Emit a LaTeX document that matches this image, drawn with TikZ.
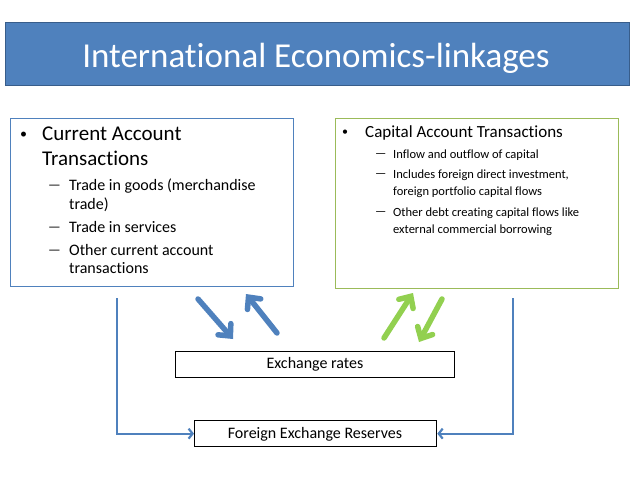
\documentclass[tikz,border=0pt]{standalone}
\usepackage{fontspec}
\setmainfont{Carlito}[Ligatures=NoCommon]
\usetikzlibrary{arrows.meta}
\definecolor{obl}{HTML}{4F81BD}
\definecolor{obld}{HTML}{385D8A}
\definecolor{ogr}{HTML}{9BBB59}
\definecolor{agr}{HTML}{92D050}
\tikzset{
  txt/.style={anchor=base west, inner sep=0pt, font=\fontsize{#1}{#1}\selectfont},
  fat/.style={line width=5.5pt, line cap=round, -{Straight Barb[length=9pt,width=17pt,line cap=round]}, draw=#1},
  thin/.style={line width=2.2pt, draw=obl, -{Straight Barb[length=4pt,width=10pt]}},
  blk/.style={draw=black, line width=1.3pt, fill=white}
}
\begin{document}
\begin{tikzpicture}[x=1pt,y=-1pt]
\useasboundingbox (0,0) rectangle (638,479);
% title
\node[draw=obld, line width=1pt, fill=obl, minimum width=624pt, minimum height=63pt, anchor=north west, inner sep=0pt] (title) at (5,22) {};
\node[anchor=base, inner sep=0pt, text=white, font=\fontsize{35}{35}\selectfont] (titletext) at (316,67) {International Economics-linkages};
% left box
\node[draw=obl, line width=1.4pt, minimum width=283pt, minimum height=168pt, anchor=north west, inner sep=0pt] (cur) at (10,118) {};
\node[txt=14] (cb) at (20,138) {•};
\node[txt=21] (c1) at (42,140) {Current Account};
\node[txt=21] (c2) at (42,165) {Transactions};
\node[txt=14] (cd1) at (48,189) {—};
\node[txt=16] (cl1) at (69,190) {Trade in goods (merchandise};
\node[txt=16] (cl2) at (69,209) {trade)};
\node[txt=14] (cd2) at (48,231) {—};
\node[txt=16] (cl3) at (69,232) {Trade in services};
\node[txt=14] (cd3) at (48,254) {—};
\node[txt=16] (cl4) at (69,255) {Other current account};
\node[txt=16] (cl5) at (69,273) {transactions};
% right box
\node[draw=ogr, line width=1.4pt, minimum width=283pt, minimum height=170pt, anchor=north west, inner sep=0pt] (cap) at (335,118) {};
\node[txt=12] (kb) at (342,135) {•};
\node[txt=17] (k1) at (365,137) {Capital Account Transactions};
\node[txt=12.5] (kd1) at (375,157) {—};
\node[txt=12.5] (kl1) at (393,158) {Inflow and outflow of capital};
\node[txt=12.5] (kd2) at (375,177) {—};
\node[txt=12.5] (kl2) at (393,178) {Includes foreign direct investment,};
\node[txt=12.5] (kl3) at (393,195) {foreign portfolio capital flows};
\node[txt=12.5] (kd3) at (375,215) {—};
\node[txt=12.5] (kl4) at (393,216) {Other debt creating capital flows like};
\node[txt=12.5] (kl5) at (393,233) {external commercial borrowing};
% lower boxes
\node[blk, minimum width=279pt, minimum height=26pt, anchor=north west, inner sep=0pt] (ex) at (175,351) {};
\node[anchor=base, inner sep=0pt, font=\fontsize{16}{16}\selectfont] (extext) at (315,368) {Exchange rates};
\node[blk, minimum width=242pt, minimum height=26pt, anchor=north west, inner sep=0pt] (fer) at (194,420) {};
\node[anchor=base, inner sep=0pt, font=\fontsize{16}{16}\selectfont] (fertext) at (315,438) {Foreign Exchange Reserves};
% thin connectors
\coordinate (lt) at (117,298);
\coordinate (rt) at (513,298);
\draw[thin] (lt) |- (fer.west);
\draw[thin] (rt) |- (fer.east);
% fat arrows
\coordinate (b1s) at (198,299);
\coordinate (b1e) at (233,339);
\coordinate (b2s) at (277,333);
\coordinate (b2e) at (246,294);
\coordinate (g1s) at (384,338);
\coordinate (g1e) at (413,293);
\coordinate (g2s) at (442,299);
\coordinate (g2e) at (419,342);
\draw[fat=obl] (b1s) -- (b1e);
\draw[fat=obl] (b2s) -- (b2e);
\draw[fat=agr] (g1s) -- (g1e);
\draw[fat=agr] (g2s) -- (g2e);
\end{tikzpicture}
\end{document}
